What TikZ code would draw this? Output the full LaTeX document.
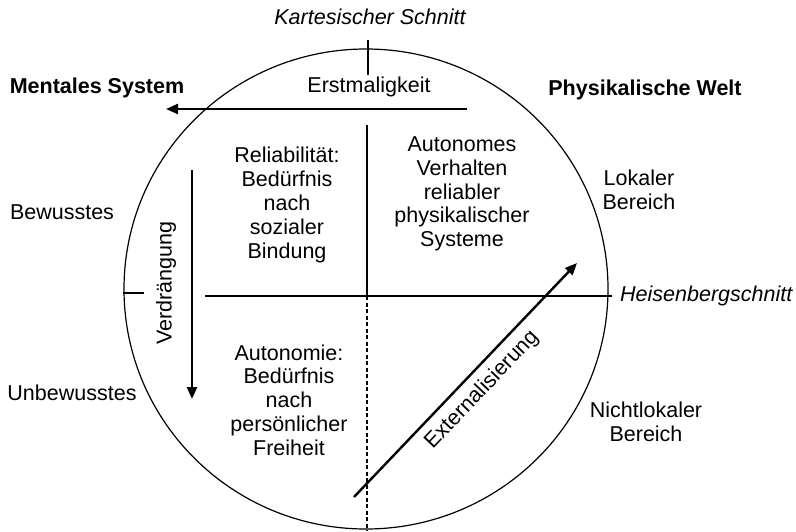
\documentclass[tikz,border=0pt]{standalone}
\usepackage{fontspec}
\setmainfont{Liberation Sans}
\usetikzlibrary{arrows.meta}
\begin{document}
\begin{tikzpicture}[x=1pt,y=-1pt,
  lbl/.style={font=\fontsize{21.5}{23.8}\selectfont, align=center, inner sep=0pt},
  ital/.style={lbl, font=\fontsize{21.5}{23.8}\selectfont\itshape},
  bld/.style={lbl, font=\fontsize{21.5}{23.8}\selectfont\bfseries},
  thin/.style={line width=1.2pt},
  bigarrow/.style={line width=2.4pt, -{Triangle[length=12pt,width=10pt]}}]
\useasboundingbox (0,0) rectangle (796,531);
% circle
\draw[thin] (366,289) ellipse [x radius=242, y radius=240];
% cuts
\coordinate (kt) at (368,40); \coordinate (kb) at (368,75);
\draw[thin] (kt) -- (kb);
\coordinate (lt) at (123,293); \coordinate (lb) at (144,293);
\draw[thin] (lt) -- (lb);
\coordinate (hl) at (205,296); \coordinate (hr) at (612,296);
\draw[thin] (hl) -- (hr);
\coordinate (vt) at (367,125); \coordinate (vm) at (367,296); \coordinate (vb) at (367,531);
\draw[thin] (vt) -- (vm);
\draw[thin, dash pattern=on 4pt off 2.5pt] (vm) -- (vb);
% arrows
\coordinate (e1) at (467,109); \coordinate (e2) at (166,109);
\draw[bigarrow] (e1) -- (e2);
\coordinate (v1) at (192,170); \coordinate (v2) at (192,399);
\draw[bigarrow] (v1) -- (v2);
\coordinate (x1) at (354,497); \coordinate (x2) at (577,263);
\draw[bigarrow] (x1) -- (x2);
% labels
\node[ital] (kart) at (370,17) {Kartesischer Schnitt};
\node[bld] (ment) at (97,88) {Mentales System};
\node[bld] (phys) at (645,90) {Physikalische Welt};
\node[lbl] (erst) at (369,87) {Erstmaligkeit};
\node[lbl] (bew) at (62,212) {Bewusstes};
\node[lbl] (unb) at (72,393) {Unbewusstes};
\node[lbl] (lok) at (639,190) {Lokaler\\Bereich};
\node[lbl] (nlok) at (646,422) {Nichtlokaler\\Bereich};
\node[ital, anchor=west] (heis) at (620,296) {Heisenbergschnitt};
\node[lbl] (rel) at (287,205) {Reliabilität:\\Bedürfnis\\nach\\sozialer\\Bindung};
\node[lbl] (aut) at (462,194) {Autonomes\\Verhalten\\reliabler\\physikalischer\\Systeme};
\node[lbl] (autn) at (289,400) {Autonomie:\\Bedürfnis\\nach\\persönlicher\\Freiheit};
\node[lbl, rotate=90] (verd) at (166,283) {Verdrängung};
\node[lbl, rotate=46.5] (ext) at (482,390) {Externalisierung};
\end{tikzpicture}
\end{document}
